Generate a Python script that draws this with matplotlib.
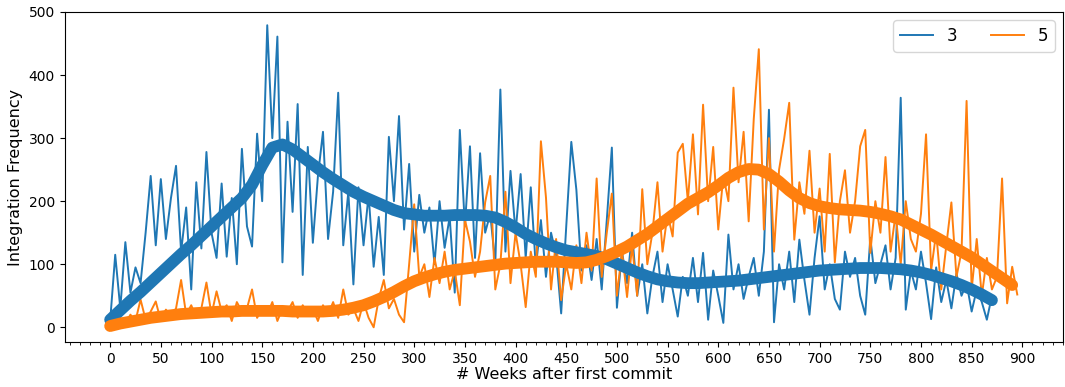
import numpy as np
import matplotlib
matplotlib.use("Agg")
import matplotlib.pyplot as plt
from matplotlib.ticker import MultipleLocator

# ---- data ----
step_raw = 5
blue_raw = [10, 115, 30, 135, 55, 95, 70, 150, 240, 130, 235, 140, 205, 256, 120, 190, 60, 230, 125, 278,
            150, 110, 228, 112, 205, 100, 283, 160, 128, 307, 200, 479, 300, 461, 103, 326, 183, 354, 83, 286,
            134, 240, 310, 140, 215, 372, 130, 215, 68, 222, 130, 210, 96, 175, 83, 302, 200, 335, 155, 259,
            120, 210, 150, 190, 100, 200, 126, 175, 55, 313, 160, 287, 110, 276, 150, 180, 100, 377, 120, 248,
            150, 243, 110, 222, 95, 170, 80, 150, 115, 22, 160, 294, 218, 90, 130, 75, 140, 60, 170, 285,
            31, 120, 70, 150, 50, 100, 22, 80, 120, 40, 100, 60, 17, 80, 50, 110, 40, 118, 12, 90,
            50, 7, 147, 60, 100, 45, 80, 110, 50, 120, 345, 8, 100, 60, 120, 40, 139, 75, 20, 110,
            176, 60, 100, 45, 28, 120, 80, 110, 50, 20, 142, 70, 100, 130, 60, 110, 364, 28, 90, 60,
            120, 70, 13, 95, 40, 75, 30, 85, 50, 70, 25, 60, 40, 12, 50]
orange_raw = [2, 8, 15, 5, 20, 10, 44, 12, 25, 41, 10, 28, 18, 30, 75, 20, 35, 15, 30, 71,
              20, 57, 25, 35, 10, 40, 25, 30, 60, 15, 30, 20, 40, 10, 30, 25, 40, 15, 35, 20,
              30, 10, 35, 20, 40, 15, 60, 20, 30, 10, 40, 15, 0, 45, 75, 30, 45, 20, 8, 100,
              195, 80, 100, 48, 110, 70, 120, 60, 90, 35, 171, 136, 80, 120, 198, 240, 60, 100, 215, 70,
              150, 100, 32, 120, 80, 295, 206, 60, 140, 43, 100, 60, 130, 70, 150, 90, 236, 80, 150, 212,
              50, 120, 48, 130, 50, 219, 100, 150, 230, 120, 180, 144, 277, 291, 200, 306, 179, 353, 200, 286,
              155, 240, 200, 380, 230, 310, 168, 330, 441, 155, 300, 120, 250, 299, 356, 139, 230, 180, 280, 150,
              220, 120, 275, 103, 200, 249, 150, 200, 287, 313, 118, 200, 150, 270, 120, 180, 100, 200, 140, 120,
              180, 306, 90, 150, 60, 130, 198, 80, 120, 359, 60, 140, 50, 110, 60, 80, 236, 38, 96, 52]

step_smooth = 10
blue_smooth = [12, 27, 42, 56, 71, 86, 101, 116, 130, 145, 160, 175, 190, 205, 226, 257, 285, 290, 282, 270,
               258, 246, 235, 225, 215, 207, 200, 193, 186, 181, 179, 177, 177, 177, 178, 178, 178, 177, 174, 167,
               158, 148, 140, 133, 127, 122, 119, 116, 113, 108, 101, 94, 87, 81, 76, 73, 71, 70, 70, 71,
               72, 73, 74, 76, 78, 80, 82, 84, 86, 88, 90, 91, 92, 93, 94, 94, 94, 93, 92, 90,
               87, 83, 78, 73, 67, 60, 52, 43]
orange_smooth = [2, 6, 9, 12, 15, 17, 19, 21, 22, 23, 24, 25, 25, 26, 26, 26, 26, 26, 25, 25,
                 25, 25, 26, 28, 31, 35, 41, 48, 56, 65, 73, 79, 84, 88, 91, 93, 95, 97, 99, 101,
                 102, 103, 104, 104, 104, 103, 102, 103, 107, 113, 120, 128, 138, 148, 160, 172, 184, 196, 205, 214,
                 225, 237, 246, 251, 250, 243, 231, 217, 205, 197, 192, 189, 187, 186, 185, 183, 180, 176, 171, 163,
                 155, 147, 138, 129, 120, 111, 100, 89, 78, 67]

labels = ["3", "5"]
xticks = list(range(0, 901, 50))
yticks = [0, 100, 200, 300, 400, 500]

blue_c = "#1f77b4"
orange_c = "#ff7f0e"

fig = plt.figure(figsize=(10.65, 3.87), dpi=100)
ax = fig.add_axes([0.0606, 0.116, 0.9374, 0.853])

xb = np.arange(len(blue_raw)) * step_raw
xo = np.arange(len(orange_raw)) * step_raw
xbs = np.arange(len(blue_smooth)) * step_smooth
xos = np.arange(len(orange_smooth)) * step_smooth

ax.plot(xb, blue_raw, color=blue_c, lw=1.4, label=labels[0])
ax.plot(xo, orange_raw, color=orange_c, lw=1.4, label=labels[1])
ax.plot(xbs, blue_smooth, color=blue_c, lw=8.5, solid_capstyle="round", solid_joinstyle="round")
ax.plot(xos, orange_smooth, color=orange_c, lw=8.5, solid_capstyle="round", solid_joinstyle="round")

ax.set_xlim(-45, 940)
ax.set_ylim(-23.5, 500)
ax.set_xticks(xticks)
ax.xaxis.set_minor_locator(MultipleLocator(10))
ax.set_yticks(yticks)
ax.tick_params(axis="both", labelsize=10)
ax.set_xlabel("# Weeks after first commit", fontsize=11.5, labelpad=1)
ax.set_ylabel("Integration Frequency", fontsize=11.5)
ax.legend(loc="upper right", ncol=2, fontsize=12)

fig.savefig("out.png", dpi=100)
